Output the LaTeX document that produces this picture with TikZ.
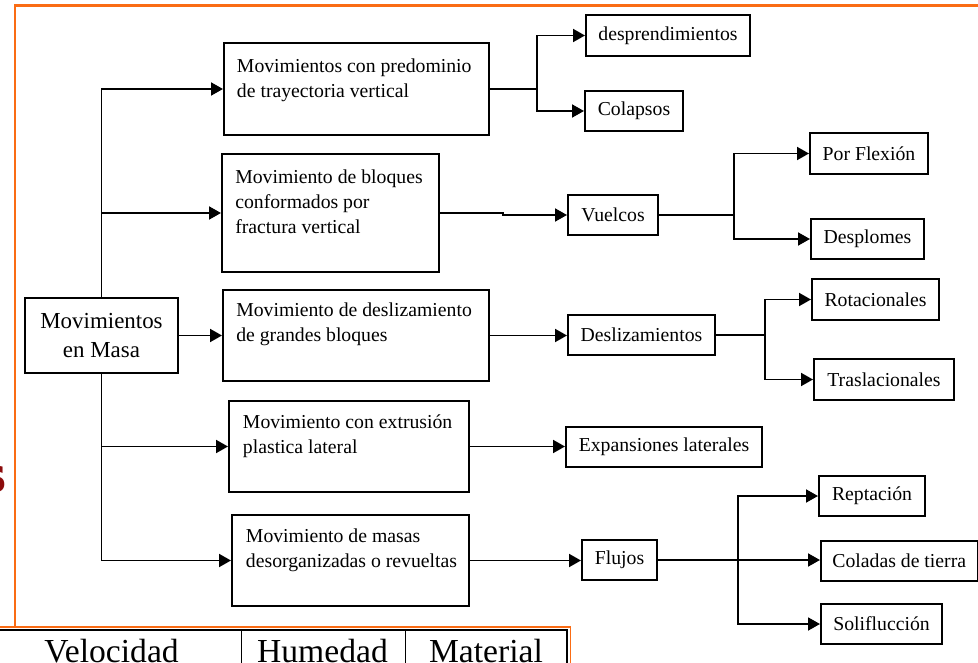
\documentclass[tikz,border=0pt]{standalone}
\usepackage{fontspec}
\setmainfont{Liberation Serif}
\newfontfamily\slidesans{DejaVu Sans}
\usetikzlibrary{arrows.meta}
\definecolor{frameorange}{RGB}{250,108,20}
\definecolor{slidered}{RGB}{140,12,12}
\tikzset{
 box/.style={draw, line width=1.5pt, inner sep=0pt, font=\fontsize{14.8}{18.75}\selectfont},
 rect/.style n args={4}{minimum width={(#3-#1)*0.75pt}, minimum height={(#4-#2)*0.75pt}, at={({(#1+#3)/2},{(#2+#4)/2})}},
 rootbox/.style={box, align=center, font=\fontsize{17.2}{21.75}\selectfont},
 txt/.style={anchor=north west, inner sep=0pt, align=left, font=\fontsize{14.8}{18.75}\selectfont},
 conn/.style={line width=1.4pt, -{Triangle[length=9pt,width=9.75pt]}},
 frameline/.style={draw=frameorange},
 cell/.style={inner sep=0pt, anchor=base, font=\fontsize{25.2}{30}\selectfont},
}
\begin{document}
\begin{tikzpicture}[x=0.75pt,y=-0.75pt]
\clip (0,0) rectangle (978,663);
% frames
\draw[frameline, line width=1.6pt] (15,627) -- (15,5.5) -- (980,5.5);
\draw[frameline, line width=1.3pt] (-2,627) -- (570.5,627) -- (570.5,666);
% table
\draw[line width=1pt] (-2,630) -- (567,630) -- (567,666);
\draw[line width=1pt] (241.5,630) -- (241.5,666);
\draw[line width=1pt] (405.8,630) -- (405.8,666);
\node[cell] (vel) at (111.5,662.5) {Velocidad};
\node[cell] (hum) at (322.5,662.5) {Humedad};
\node[cell] (mat) at (486,662.5) {Material};
% cut-off slide title letter
\node[anchor=base east, inner sep=0pt, text=slidered, font=\slidesans\bfseries\fontsize{36}{40}\selectfont] (cutword) at (7,492) {s};

% boxes
\node[rootbox, rect={25}{298}{178}{373}] (root) {Movimientos\\en Masa};
\node[box, rect={224}{43}{489}{135}] (A1) {};
\node[box, rect={222}{154}{439}{272}] (A2) {};
\node[box, rect={223}{290}{489}{381}] (A3) {};
\node[box, rect={229}{401}{469}{492}] (A4) {};
\node[box, rect={232}{515}{469}{606}] (A5) {};
\node[txt] (A1t) at (236.7,57.3) {\rule{0pt}{11pt}Movimientos con predominio\\de trayectoria vertical};
\node[txt] (A2t) at (235,168.3) {\rule{0pt}{11pt}Movimiento de bloques\\conformados por\\fractura vertical};
\node[txt] (A3t) at (236,301.8) {\rule{0pt}{11pt}Movimiento de deslizamiento\\de grandes bloques};
\node[txt] (A4t) at (242.7,413.3) {\rule{0pt}{11pt}Movimiento con extrusión\\plastica lateral};
\node[txt] (A5t) at (245.7,527.3) {\rule{0pt}{11pt}Movimiento de masas\\desorganizadas o revueltas};

\node[box, rect={586}{15}{750}{56}] (desp) {desprendimientos};
\node[box, rect={585}{91}{683}{131}] (colap) {Colapsos};
\node[box, rect={568}{195}{658}{235}] (vuel) {Vuelcos};
\node[box, rect={810}{133}{928}{174}] (flex) {Por Flexión};
\node[box, rect={811}{219}{924}{259}] (despl) {Desplomes};
\node[box, rect={568}{315}{715}{355}] (desl) {Deslizamientos};
\node[box, rect={812}{279}{939}{320}] (rot) {Rotacionales};
\node[box, rect={814}{359}{954}{400}] (tras) {Traslacionales};
\node[box, rect={566}{427}{762}{467}] (exp) {Expansiones laterales};
\node[box, rect={582}{540}{657}{580}] (flu) {Flujos};
\node[box, rect={819}{476}{925}{516}] (rep) {Reptación};
\node[box, rect={821}{541}{977.5}{581}] (col) {Coladas de tierra};
\node[box, rect={821}{604}{942}{644}] (sol) {Soliflucción};

% connectors
\draw[conn] (root.north) |- (A1.west);
\draw[conn] (root.north) |- (A2.west);
\draw[conn] (root.east) -- (A3.west |- root.east);
\draw[conn] (root.south) |- (A4.west);
\draw[conn] (root.south) |- (A5.west);
\draw[conn] (A1.east) -- ++(47,0) |- (desp.west);
\draw[conn] (A1.east) -- ++(47,0) |- (colap.west);
\draw[conn] (A2.east) -- ++(63,0) |- (vuel.west);
\draw[conn] (vuel.east) -- ++(75,0) |- (flex.west);
\draw[conn] (vuel.east) -- ++(75,0) |- (despl.west);
\draw[conn] (A3.east) -- (desl.west |- A3.east);
\draw[conn] (desl.east) -- ++(49,0) |- (rot.west);
\draw[conn] (desl.east) -- ++(49,0) |- (tras.west);
\draw[conn] (A4.east) -- (exp.west |- A4.east);
\draw[conn] (A5.east) -- (flu.west |- A5.east);
\draw[conn] (flu.east) -- ++(80,0) |- (rep.west);
\draw[conn] (flu.east) -- (col.west |- flu.east);
\draw[conn] (flu.east) -- ++(80,0) |- (sol.west);
\end{tikzpicture}
\end{document}
